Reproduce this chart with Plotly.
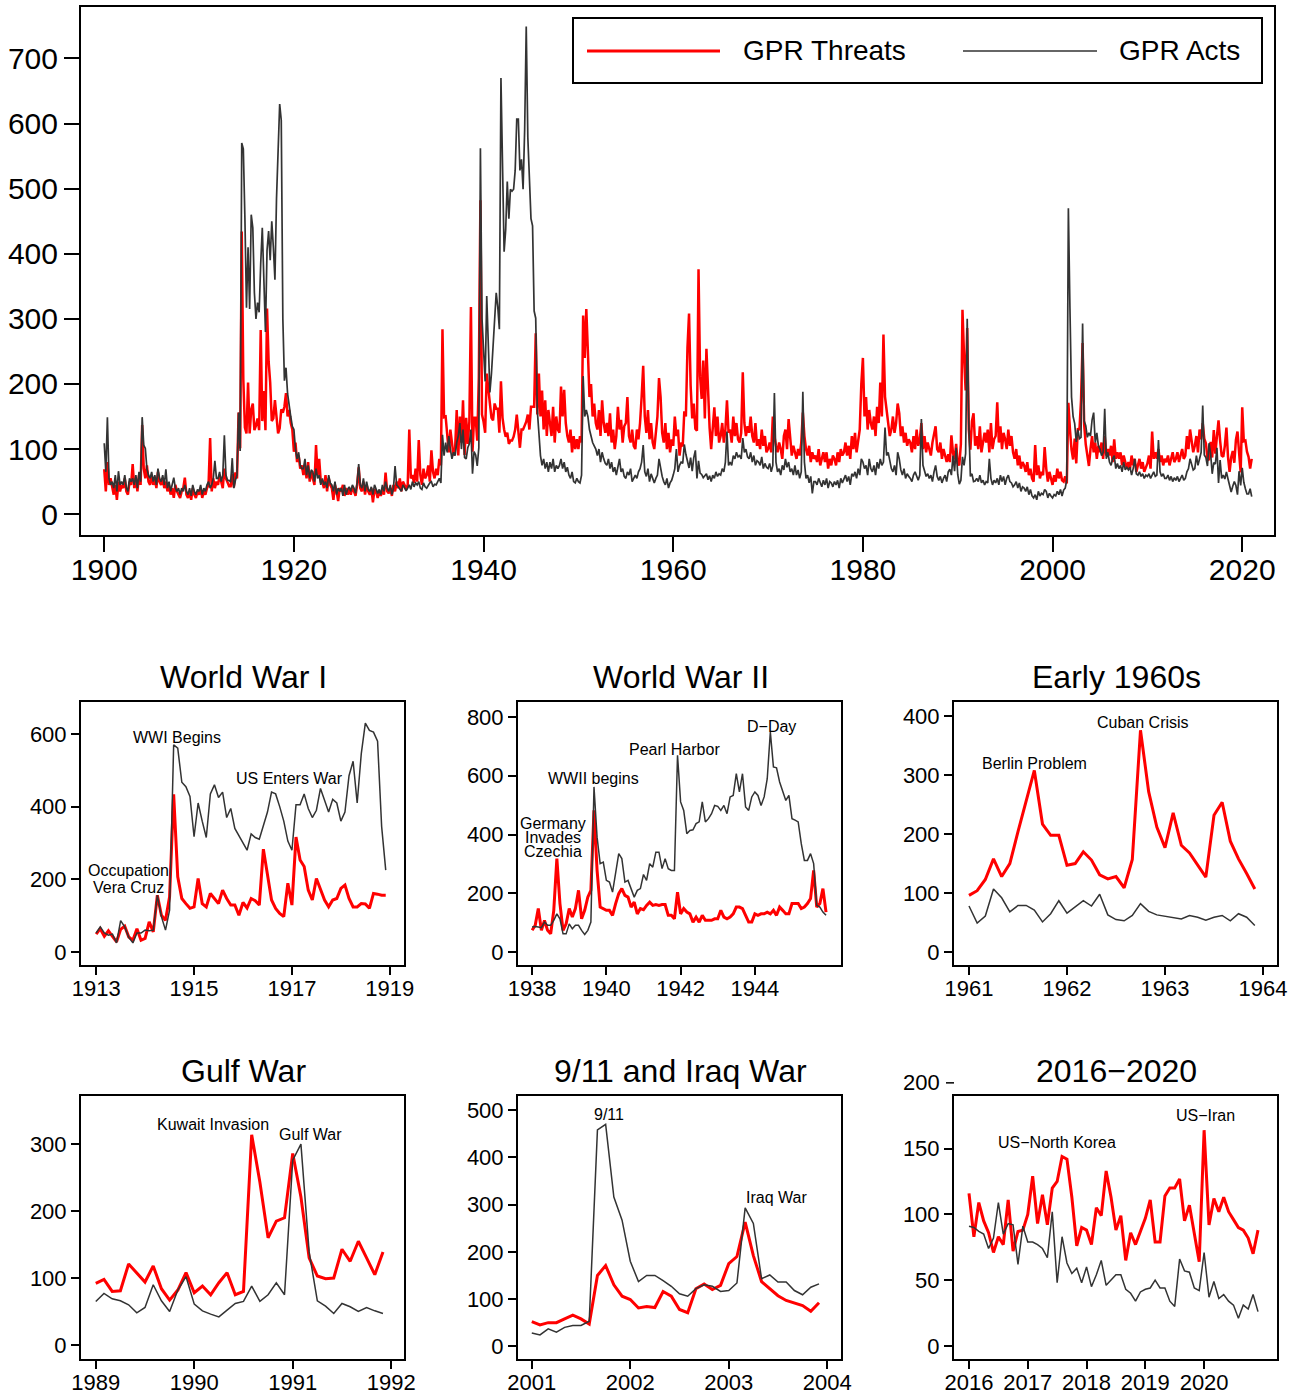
import plotly.graph_objects as go

W, H = 1291, 1397
FONT = "Liberation Sans, Arial, Helvetica, sans-serif"
RED = "#ff0000"
GREY = "#333333"

# ---------------- Main chart data (every 2nd month: Jan, Mar, May, Jul, Sep, Nov) ----------------
MAIN_START = 1900
T_1900S = [69, 35, 80, 45, 55, 40,  30, 45, 22, 50, 35, 45,  40, 55, 35, 30, 50, 45,  77, 40, 55, 35, 60, 45,
           137, 70, 55, 75, 50, 45,  60, 45, 55, 40, 65, 50,  45, 55, 40, 50, 35, 45,  30, 40, 25, 45, 35, 30,
           25, 35, 40, 56, 30, 25,  35, 22, 40, 30, 25, 35]
A_1900S = [109, 65, 149, 55, 45, 50,  40, 60, 35, 66, 45, 50,  45, 60, 40, 35, 55, 50,  55, 45, 60, 40, 65, 50,
           149, 106, 101, 70, 60, 55,  65, 50, 60, 45, 70, 55,  50, 60, 45, 69, 40, 50,  35, 45, 56, 40, 35, 40,
           30, 40, 35, 45, 35, 30,  40, 28, 45, 35, 30, 38]
T_1910S = [30, 40, 25, 35, 30, 40,  45, 117, 35, 55, 40, 50,  45, 60, 50, 40, 70, 55,  49, 43, 43, 62, 41, 64,
           55, 156, 101, 434, 207, 133,  124, 202, 124, 161, 170, 129,  136, 147, 129, 283, 143, 189,
           129, 316, 235, 202, 143, 147,  175, 147, 124, 132, 161, 156,  165, 186, 150, 160, 140, 130]
A_1910S = [35, 45, 30, 40, 35, 45,  50, 40, 45, 55, 82, 55,  55, 65, 50, 60, 121, 60,  52, 52, 49, 86, 40, 52,
           60, 156, 97, 570, 561, 455,  317, 410, 315, 460, 440, 340,  300, 325, 310, 385, 440, 360,
           280, 405, 435, 390, 450, 410,  360, 485, 545, 630, 605, 300,  205, 225, 185, 165, 150, 135]
T_1920S = [96, 110, 80, 90, 70, 75,  60, 75, 55, 80, 50, 65,  55, 45, 106, 60, 85, 50,  50, 40, 60, 35, 55, 45,
           40, 22, 45, 35, 20, 40,  35, 45, 28, 40, 30, 38,  30, 42, 35, 28, 45, 72,  40, 35, 50, 30, 45, 35,
           30, 40, 18, 38, 35, 25,  35, 28, 40, 30, 64, 35]
A_1920S = [130, 100, 85, 95, 75, 70,  70, 85, 60, 75, 55, 68,  65, 50, 70, 55, 60, 45,  55, 45, 50, 40, 60, 48,
           45, 35, 50, 30, 40, 35,  40, 28, 45, 30, 38, 42,  35, 45, 40, 32, 48, 77,  45, 40, 55, 35, 50, 38,
           35, 42, 30, 45, 38, 32,  38, 30, 45, 35, 50, 40]
T_1930S = [32, 40, 28, 45, 35, 50,  40, 55, 35, 50, 45, 38,  45, 130, 55, 60, 48, 70,  50, 114, 60, 45, 70, 55,
           60, 75, 50, 98, 65, 55,  70, 60, 85, 75, 284, 149,  150, 120, 95, 130, 110, 90,
           100, 160, 90, 150, 110, 175,  91, 148, 108, 142, 318, 96,  148, 148, 113, 210, 482, 153]
A_1930S = [35, 45, 30, 40, 74, 45,  42, 38, 35, 45, 40, 36,  40, 45, 38, 50, 42, 48,  45, 50, 40, 38, 48, 42,
           40, 45, 48, 50, 42, 46,  45, 50, 55, 48, 122, 90,  110, 95, 120, 100, 85, 95,
           90, 110, 120, 140, 100, 130,  87, 85, 102, 108, 130, 62,  96, 91, 74, 102, 562, 301]
T_1940S = [142, 125, 216, 187, 170, 148,  144, 170, 162, 162, 125, 204,  148, 130, 119, 125, 108, 113,
           113, 119, 130, 153, 125, 102,  130, 130, 136, 142, 153, 130,  165, 165, 165, 278, 153, 216,
           150, 190, 130, 175, 120, 160,  140, 120, 165, 110, 150, 130,  125, 196, 150, 191, 140, 120,
           110, 130, 95, 120, 100, 115]
A_1940S = [244, 204, 335, 244, 187, 216,  264, 301, 340, 318, 284, 670,  511, 403, 437, 511, 454, 499,
           496, 499, 528, 607, 607, 528,  545, 499, 590, 749, 579, 516,  454, 443, 312, 301, 159, 125,
           90, 75, 85, 70, 80, 65,  80, 70, 85, 65, 75, 70,  75, 85, 70, 80, 65, 72,  60, 55, 65, 50, 48, 55]
T_1950S = [100, 120, 110, 305, 240, 315,  250, 180, 200, 150, 170, 140,  130, 160, 120, 175, 140, 125,
           140, 120, 155, 110, 130, 100,  120, 165, 130, 145, 110, 135,  140, 180, 120, 110, 130, 105,
           100, 130, 115, 140, 180, 228,  150, 125, 160, 115, 140, 110,  100, 130, 150, 209, 180, 125,
           110, 140, 100, 125, 95, 115]
A_1950S = [50, 48, 60, 212, 150, 160,  150, 130, 120, 110, 105, 100,  90, 100, 80, 95, 85, 78,
           75, 85, 70, 80, 65, 72,  60, 75, 85, 65, 70, 58,  55, 65, 60, 70, 50, 55,
           60, 55, 65, 70, 80, 106,  65, 58, 70, 50, 62, 55,  48, 55, 60, 85, 70, 58,  50, 45, 55, 40, 48, 52]
T_1960S = [105, 150, 120, 130, 90, 110,  104, 158, 150, 255, 308, 198,  147, 170, 131, 128, 376, 212,
           177, 236, 147, 254, 188, 133,  100, 130, 164, 120, 150, 110,  120, 140, 110, 130, 175, 125,
           130, 110, 150, 120, 140, 115,  110, 125, 218, 140, 120, 135,  125, 150, 120, 110, 140, 105,
           115, 100, 130, 105, 120, 95]
A_1960S = [60, 70, 100, 65, 75, 80,  78, 107, 92, 79, 71, 87,  66, 87, 98, 55, 82, 63,  61, 56, 59, 62, 53, 59,
           50, 60, 55, 65, 58, 62,  60, 70, 65, 80, 127, 75,  80, 75, 90, 85, 95, 88,  90, 85, 117, 95, 100, 88,
           85, 95, 80, 90, 75, 82,  80, 75, 88, 70, 78, 72]
T_1970S = [100, 110, 95, 150, 120, 105,  95, 110, 100, 85, 120, 130,  100, 146, 110, 90, 105, 95,
           85, 100, 90, 110, 156, 120,  100, 90, 105, 80, 95, 85,  90, 80, 100, 75, 85, 95,
           80, 95, 70, 85, 75, 90,  85, 75, 95, 80, 100, 90,  95, 110, 90, 105, 85, 120,
           100, 125, 95, 115, 130, 200]
A_1970S = [70, 78, 65, 75, 186, 80,  65, 70, 60, 75, 68, 85,  72, 80, 65, 70, 60, 75,  60, 68, 55, 65, 188, 80,
           55, 60, 48, 58, 32, 50,  50, 45, 55, 48, 42, 52,  45, 55, 40, 50, 48, 42,  50, 45, 52, 40, 55, 48,
           55, 60, 50, 58, 45, 62,  58, 65, 55, 70, 60, 85]
T_1980S = [240, 150, 180, 130, 160, 140,  130, 150, 120, 165, 140, 202,  150, 276, 180, 160, 140, 120,
           130, 150, 125, 140, 170, 155,  120, 135, 110, 125, 105, 115,  110, 95, 120, 100, 130, 105,
           115, 140, 100, 120, 95, 110,  100, 90, 110, 125, 135, 100,  95, 110, 85, 100, 90, 80,
           92, 80, 121, 94, 84, 108]
A_1980S = [80, 70, 75, 60, 85, 70,  65, 75, 60, 80, 70, 85,  75, 80, 133, 90, 95, 80,  70, 65, 75, 60, 95, 85,
           68, 60, 70, 55, 62, 58,  55, 50, 60, 65, 58, 52,  60, 146, 75, 65, 58, 62,  55, 60, 50, 65, 75, 58,
           52, 58, 48, 55, 60, 50,  65, 69, 60, 90, 66, 102]
T_1990S = [78, 75, 108, 314, 243, 190,  286, 130, 99, 143, 155, 105,  120, 100, 135, 95, 110, 125,
           110, 130, 95, 140, 100, 115,  120, 172, 110, 135, 100, 125,  115, 100, 130, 105, 120, 95,
           85, 100, 75, 90, 70, 80,  75, 65, 80, 60, 70, 55,  50, 106, 60, 75, 55, 65,  60, 103, 70, 50, 65, 55]
A_1990S = [61, 46, 52, 88, 75, 93,  300, 139, 58, 62, 50, 51,  55, 50, 60, 48, 52, 45,  50, 48, 85, 55, 45, 52,
           48, 55, 45, 60, 50, 58,  45, 55, 60, 50, 48, 42,  45, 50, 40, 48, 35, 42,  40, 35, 42, 30, 38, 28,
           25, 30, 22, 35, 28, 32,  30, 38, 35, 25, 32, 28]
T_2000S = [45, 60, 50, 70, 55, 65,  52, 50, 58, 47, 171, 130,  99, 84, 116, 78, 132, 129,  175, 263, 137, 107, 92, 74,
           100, 120, 95, 110, 85, 105,  95, 110, 85, 120, 90, 100,  90, 105, 80, 115, 85, 95,
           85, 95, 75, 90, 80, 70,  80, 70, 90, 75, 85, 65,  75, 85, 70, 80, 65, 72]
A_2000S = [25, 30, 28, 35, 30, 38,  28, 37, 40, 53, 470, 316,  180, 150, 139, 111, 130, 116,  118, 293, 143, 136, 118, 125,
           120, 145, 156, 110, 125, 105,  100, 90, 95, 162, 85, 95,  80, 75, 85, 90, 70, 78,
           70, 75, 65, 80, 68, 72,  68, 72, 60, 70, 85, 62,  60, 65, 58, 62, 55, 60]
T_2010S = [78, 90, 70, 127, 85, 95,  85, 100, 80, 90, 75, 85,  80, 90, 75, 85, 95, 80,  85, 95, 80, 90, 100, 85,
           90, 120, 100, 130, 110, 95,  105, 120, 95, 130, 115, 140,  116, 109, 86, 83, 111, 87,
           129, 93, 120, 144, 113, 90,  88, 105, 133, 88, 65, 87,  97, 79, 114, 127, 95, 64]
A_2010S = [58, 62, 55, 60, 65, 58,  60, 114, 65, 58, 62, 55,  55, 60, 52, 58, 50, 56,  52, 58, 50, 55, 60, 52,
           55, 65, 70, 85, 75, 68,  70, 90, 75, 85, 95, 167,  91, 87, 74, 109, 93, 62,
           79, 77, 102, 48, 83, 55,  60, 54, 65, 54, 43, 34,  43, 50, 44, 30, 66, 44]
T_2020S = [164, 112, 113, 96, 88, 70,  85]
A_2020S = [71, 49, 39, 31, 31, 39,  27]

MAIN_THREATS = (T_1900S + T_1910S + T_1920S + T_1930S + T_1940S + T_1950S + T_1960S +
                T_1970S + T_1980S + T_1990S + T_2000S + T_2010S + T_2020S)
MAIN_ACTS = (A_1900S + A_1910S + A_1920S + A_1930S + A_1940S + A_1950S + A_1960S +
             A_1970S + A_1980S + A_1990S + A_2000S + A_2010S + A_2020S)
MAIN_X_TICKS = [1900, 1920, 1940, 1960, 1980, 2000, 2020]
MAIN_Y_TICKS = [0, 100, 200, 300, 400, 500, 600, 700]

# ---------------- Episode panels (monthly) ----------------
WWI_START = 1913
WWI_THREATS = [49, 64, 43, 58, 43, 28, 62, 71, 41, 32, 64, 32,
               37, 83, 55, 156, 101, 87, 152, 434, 207, 147, 133, 120,
               124, 202, 133, 124, 161, 147, 133, 170, 147, 129, 129, 101,
               136, 121, 147, 141, 129, 283, 207, 143, 120, 106, 97, 189,
               129, 316, 253, 235, 170, 143, 202, 170, 143, 124, 143, 147,
               175, 184, 147, 124, 124, 133, 132, 120, 161, 159, 156, 156]
WWI_ACTS = [52, 69, 52, 46, 49, 25, 86, 69, 40, 25, 52, 52,
            60, 58, 60, 156, 97, 60, 115, 570, 561, 467, 455, 428,
            317, 410, 360, 315, 435, 460, 425, 440, 370, 395, 340, 320,
            300, 280, 325, 315, 310, 345, 385, 440, 435, 400, 360, 305,
            280, 405, 405, 435, 395, 370, 390, 450, 415, 385, 420, 410,
            360, 385, 485, 525, 410, 545, 630, 610, 605, 580, 345, 225]

WWII_START = 1938
WWII_THREATS = [74, 91, 148, 74, 108, 74, 62, 142, 318, 165, 74, 96,
                148, 119, 148, 210, 113, 142, 187, 210, 482, 278, 153, 148,
                142, 142, 125, 165, 199, 216, 193, 187, 153, 170, 130, 148,
                144, 159, 170, 159, 162, 159, 162, 162, 125, 125, 113, 204,
                130, 148, 136, 130, 102, 119, 102, 125, 108, 108, 108, 113,
                113, 142, 119, 113, 119, 130, 153, 153, 148, 125, 102, 102,
                130, 125, 130, 130, 136, 130, 142, 125, 153, 142, 130, 130,
                165, 165, 165, 148, 153, 165, 182, 278, 153, 165, 216, 136]
WWII_ACTS = [85, 87, 85, 83, 102, 91, 91, 108, 130, 113, 62, 62,
             96, 79, 91, 91, 74, 60, 74, 102, 562, 391, 301, 306,
             244, 238, 204, 267, 335, 318, 238, 244, 216, 187, 210, 216,
             264, 244, 301, 289, 340, 340, 284, 318, 284, 278, 278, 670,
             511, 482, 403, 414, 416, 437, 443, 511, 443, 454, 471, 499,
             496, 482, 499, 471, 528, 533, 607, 545, 607, 494, 482, 528,
             545, 533, 499, 528, 590, 749, 630, 627, 579, 545, 516, 533,
             454, 449, 443, 369, 312, 312, 335, 301, 159, 153, 136, 125]

E60_START = 1961
E60_THREATS = [96, 104, 123, 158, 128, 150, 204, 255, 308, 217, 198, 198,
               147, 150, 170, 156, 131, 124, 128, 109, 157, 376, 272, 212,
               177, 236, 181, 168, 147, 127, 232, 254, 188, 158, 133, 107]
E60_ACTS = [78, 49, 61, 107, 92, 68, 79, 79, 71, 51, 65, 87,
            66, 76, 87, 78, 98, 63, 55, 53, 62, 82, 69, 63,
            61, 58, 56, 62, 59, 54, 59, 62, 53, 65, 59, 45]

GULF_START = 1989
GULF_THREATS = [92, 98, 80, 81, 121, 107, 94, 118, 84, 67, 82, 108,
                78, 88, 75, 93, 108, 75, 80, 314, 243, 160, 185, 190,
                286, 221, 130, 103, 99, 100, 143, 125, 155, 130, 105, 139]
GULF_ACTS = [65, 77, 69, 66, 60, 48, 56, 90, 66, 50, 82, 102,
             61, 51, 46, 42, 52, 62, 65, 88, 65, 75, 93, 75,
             276, 300, 139, 66, 58, 47, 62, 57, 50, 56, 51, 47]

IRAQ_START = 2001
IRAQ_THREATS = [52, 45, 50, 50, 58, 66, 58, 47, 150, 171, 130, 106,
                99, 81, 84, 82, 116, 106, 78, 71, 122, 132, 120, 129,
                175, 190, 263, 192, 137, 123, 107, 97, 92, 86, 74, 92]
IRAQ_ACTS = [28, 24, 37, 30, 40, 44, 44, 53, 458, 470, 316, 267,
             180, 137, 150, 150, 139, 127, 111, 106, 122, 130, 127, 116,
             118, 134, 293, 260, 143, 151, 136, 136, 118, 109, 125, 132]

RECENT_START = 2016
RECENT_THREATS = [116, 83, 109, 95, 86, 71, 83, 77, 111, 72, 87, 88,
                  100, 129, 93, 115, 92, 120, 125, 144, 142, 113, 76, 90,
                  88, 77, 105, 99, 133, 113, 88, 99, 65, 86, 77, 87,
                  97, 111, 79, 79, 114, 120, 120, 127, 95, 107, 86, 64,
                  164, 92, 112, 102, 113, 102, 96, 90, 88, 82, 70, 88]
RECENT_ACTS = [91, 90, 87, 85, 74, 82, 109, 85, 93, 92, 62, 91,
               79, 79, 77, 74, 67, 102, 48, 83, 63, 55, 59, 48,
               60, 45, 54, 65, 46, 50, 54, 54, 43, 40, 34, 41,
               43, 44, 50, 44, 44, 34, 30, 66, 57, 56, 44, 42,
               71, 37, 49, 36, 39, 34, 31, 21, 31, 28, 39, 26]

LEGEND_LABELS = ["GPR Threats", "GPR Acts"]


def px(x):
    return x / W


def py(y):
    return 1 - y / H


fig = go.Figure()

# main traces
main_x = [MAIN_START + i / 6 for i in range(len(MAIN_THREATS))]
fig.add_trace(go.Scatter(x=main_x, y=MAIN_THREATS, mode="lines", line=dict(color=RED, width=2.5),
                         name=LEGEND_LABELS[0], showlegend=False, xaxis="x", yaxis="y"))
fig.add_trace(go.Scatter(x=main_x, y=MAIN_ACTS, mode="lines", line=dict(color=GREY, width=1.7),
                         name=LEGEND_LABELS[1], showlegend=False, xaxis="x", yaxis="y"))

panels = [
    # (start, threats, acts, title, xrange, xticks, yrange, yticks, xdomain px, ydomain px)
    (WWI_START, WWI_THREATS, WWI_ACTS, "World War I", [1912.69, 1919.29], [1913, 1915, 1917, 1919],
     [-36, 688], [0, 200, 400, 600], (81, 404), (702, 965)),
    (WWII_START, WWII_THREATS, WWII_ACTS, "World War II", [1937.62, 1946.32], [1938, 1940, 1942, 1944],
     [-44, 851], [0, 200, 400, 600, 800], (518, 841), (702, 965)),
    (E60_START, E60_THREATS, E60_ACTS, "Early 1960s", [1960.847, 1964.143], [1961, 1962, 1963, 1964],
     [-22, 424], [0, 100, 200, 300, 400], (954, 1277), (702, 965)),
    (GULF_START, GULF_THREATS, GULF_ACTS, "Gulf War", [1988.85, 1992.13], [1989, 1990, 1991, 1992],
     [-21, 372], [0, 100, 200, 300], (81, 404), (1096, 1359)),
    (IRAQ_START, IRAQ_THREATS, IRAQ_ACTS, "9/11 and Iraq War", [2000.86, 2004.14], [2001, 2002, 2003, 2004],
     [-27, 530], [0, 100, 200, 300, 400, 500], (518, 841), (1096, 1359)),
    (RECENT_START, RECENT_THREATS, RECENT_ACTS, "2016\u22122020", [2015.745, 2021.24],
     [2016, 2017, 2018, 2019, 2020], [-10, 190], [0, 50, 100, 150], (954, 1277), (1096, 1359)),
]

layout_axes = {}


def axis(rng, ticks, dom, size, tlen, twidth, anchor, standoff=0):
    d = dict(range=rng, domain=dom, anchor=anchor, tickmode="array", tickvals=ticks,
             ticktext=[str(t) for t in ticks], ticks="outside", ticklen=tlen, tickwidth=twidth,
             tickcolor="black", showline=True, linecolor="black", linewidth=2, mirror=True,
             showgrid=False, zeroline=False, fixedrange=True, automargin=False,
             tickfont=dict(family=FONT, size=size, color="black"))
    if standoff:
        d["ticklabelstandoff"] = standoff
    return d


layout_axes["xaxis"] = axis([1897.55, 2023.35], MAIN_X_TICKS, [px(81), px(1274)], 30, 15, 2, "y", -8)
layout_axes["yaxis"] = axis([-32, 779], MAIN_Y_TICKS, [py(535), py(7)], 30, 15, 2, "x")

annotations = []
shapes = []

for k, (start, thr, act, title, xr, xt, yr, yt, xd, yd) in enumerate(panels):
    n = k + 2
    xs = [start + i / 12 for i in range(len(thr))]
    fig.add_trace(go.Scatter(x=xs, y=thr, mode="lines", line=dict(color=RED, width=3),
                             showlegend=False, name=LEGEND_LABELS[0], xaxis=f"x{n}", yaxis=f"y{n}"))
    fig.add_trace(go.Scatter(x=xs, y=act, mode="lines", line=dict(color=GREY, width=1.5),
                             showlegend=False, name=LEGEND_LABELS[1], xaxis=f"x{n}", yaxis=f"y{n}"))
    layout_axes[f"xaxis{n}"] = axis(xr, xt, [px(xd[0]), px(xd[1])], 22, 8, 1.5, f"y{n}", -5)
    layout_axes[f"yaxis{n}"] = axis(yr, yt, [py(yd[1]), py(yd[0])], 22, 8, 1.5, f"x{n}")
    annotations.append(dict(text=title, x=px((xd[0] + xd[1]) / 2 + 1), y=py(yd[0] - 25), xref="paper",
                            yref="paper", showarrow=False, xanchor="center", yanchor="middle",
                            font=dict(family=FONT, size=32, color="black")))

# event labels (text, x, y, panel index)
EVENTS = [
    ("WWI Begins", 1914.65, 589, 2), ("US Enters War", 1916.95, 478, 2),
    ("Occupation", 1913.67, 224, 2), ("Vera Cruz", 1913.67, 178, 2),
    ("Germany", 1938.56, 437, 3), ("Invades", 1938.56, 389, 3), ("Czechia", 1938.56, 342, 3),
    ("WWII begins", 1939.64, 590, 3), ("Pearl Harbor", 1941.84, 689, 3), ("D\u2212Day", 1944.45, 768, 3),
    ("Berlin Problem", 1961.67, 320, 4), ("Cuban Crisis", 1962.78, 389, 4),
    ("Kuwait Invasion", 1990.19, 330, 5), ("Gulf War", 1991.18, 315, 5),
    ("9/11", 2001.78, 491, 6), ("Iraq War", 2003.48, 314, 6),
    ("US\u2212North Korea", 2017.49, 155, 7), ("US\u2212Iran", 2020.02, 175, 7),
]
for text, ex, ey, n in EVENTS:
    annotations.append(dict(text=text, x=ex, y=ey, xref=f"x{n}", yref=f"y{n}", showarrow=False,
                            xanchor="center", yanchor="middle",
                            font=dict(family=FONT, size=16, color="black")))

# "200" tick drawn above the last panel's frame (as in the original)
y200 = 1096 - (200 - 190) * (263 / 200)
shapes.append(dict(type="line", xref="paper", yref="paper", x0=px(946), x1=px(954), y0=py(y200), y1=py(y200),
                   line=dict(color="black", width=1.5)))
annotations.append(dict(text="200", x=px(942), y=py(y200), xref="paper", yref="paper", showarrow=False,
                        xanchor="right", yanchor="middle", font=dict(family=FONT, size=22, color="black")))

# legend box drawn by hand
shapes.append(dict(type="rect", xref="paper", yref="paper", x0=px(573), x1=px(1262), y0=py(83), y1=py(18),
                   line=dict(color="black", width=2), fillcolor="white", layer="above"))
shapes.append(dict(type="line", xref="paper", yref="paper", x0=px(587), x1=px(720), y0=py(51), y1=py(51),
                   line=dict(color=RED, width=3), layer="above"))
shapes.append(dict(type="line", xref="paper", yref="paper", x0=px(963), x1=px(1097), y0=py(51), y1=py(51),
                   line=dict(color=GREY, width=1.5), layer="above"))
annotations.append(dict(text=LEGEND_LABELS[0], x=px(741), y=py(51), xref="paper", yref="paper", showarrow=False,
                        xanchor="left", yanchor="middle", font=dict(family=FONT, size=28, color="black")))
annotations.append(dict(text=LEGEND_LABELS[1], x=px(1117), y=py(51), xref="paper", yref="paper", showarrow=False,
                        xanchor="left", yanchor="middle", font=dict(family=FONT, size=28, color="black")))

fig.update_layout(width=W, height=H, autosize=False, margin=dict(l=0, r=0, t=0, b=0, pad=0),
                  paper_bgcolor="white", plot_bgcolor="white", showlegend=False,
                  annotations=annotations, shapes=shapes, **layout_axes)

fig.write_html("out.html", include_plotlyjs=True,
               config={"displayModeBar": False, "responsive": False},
               post_script="document.body.style.margin='0';document.body.style.overflow='hidden';")
